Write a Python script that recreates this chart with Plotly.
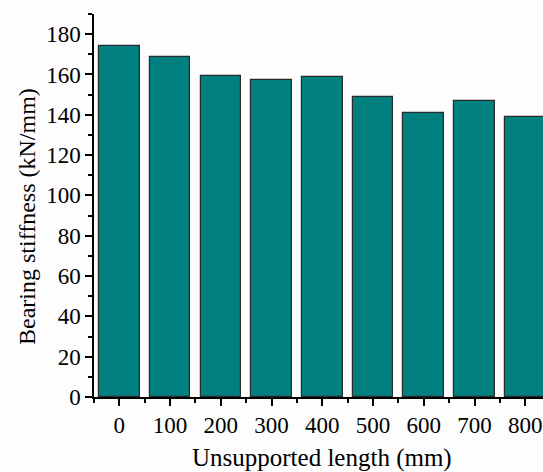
import plotly.graph_objects as go

lengths = [0, 100, 200, 300, 400, 500, 600, 700, 800]
stiffness = [174, 168.5, 159, 157.3, 158.6, 149, 141, 146.8, 139]
y_ticks = [0, 20, 40, 60, 80, 100, 120, 140, 160, 180]
x_title = "Unsupported length (mm)"
y_title = "Bearing stiffness (kN/mm)"

FONT = "Liberation Serif"

fig = go.Figure(
    go.Bar(
        x=lengths,
        y=stiffness,
        width=80,
        marker=dict(color="#008080", line=dict(color="#2a2a2a", width=1.2)),
    )
)

fig.update_layout(
    width=543,
    height=472,
    margin=dict(l=94, r=0, t=14, b=75),
    paper_bgcolor="#fdfdfd",
    plot_bgcolor="#fdfdfd",
    font=dict(family=FONT, size=23, color="black"),
    showlegend=False,
    bargap=0,
)

fig.update_xaxes(
    range=[-50, 835],
    tickvals=lengths,
    ticktext=[str(v) for v in lengths],
    showline=True,
    linecolor="black",
    linewidth=1.5,
    ticks="outside",
    ticklen=7,
    tickwidth=1.5,
    tickcolor="black",
    showgrid=False,
    zeroline=False,
    tickfont=dict(family=FONT, size=23, color="black"),
    minor=dict(tick0=-50, dtick=100, ticks="outside", ticklen=4, tickwidth=1.5, tickcolor="black", showgrid=False),
)

fig.update_yaxes(
    range=[0, 190],
    tickvals=y_ticks,
    showline=True,
    linecolor="black",
    linewidth=1.5,
    ticks="outside",
    ticklen=7,
    tickwidth=1.5,
    tickcolor="black",
    showgrid=False,
    zeroline=False,
    tickfont=dict(family=FONT, size=23, color="black"),
    minor=dict(tick0=10, dtick=20, ticks="outside", ticklen=4, tickwidth=1.5, tickcolor="black", showgrid=False),
)

fig.add_annotation(
    text=x_title, xref="paper", yref="paper", x=0.5, y=0, yshift=-61, xshift=3,
    xanchor="center", yanchor="middle", showarrow=False,
    font=dict(family=FONT, size=25, color="black"),
)
fig.add_annotation(
    text=y_title, xref="paper", yref="paper", x=0, y=0.47, xshift=-67,
    xanchor="center", yanchor="middle", textangle=-90, showarrow=False,
    font=dict(family=FONT, size=24, color="black"),
)

fig.write_html("out.html")
